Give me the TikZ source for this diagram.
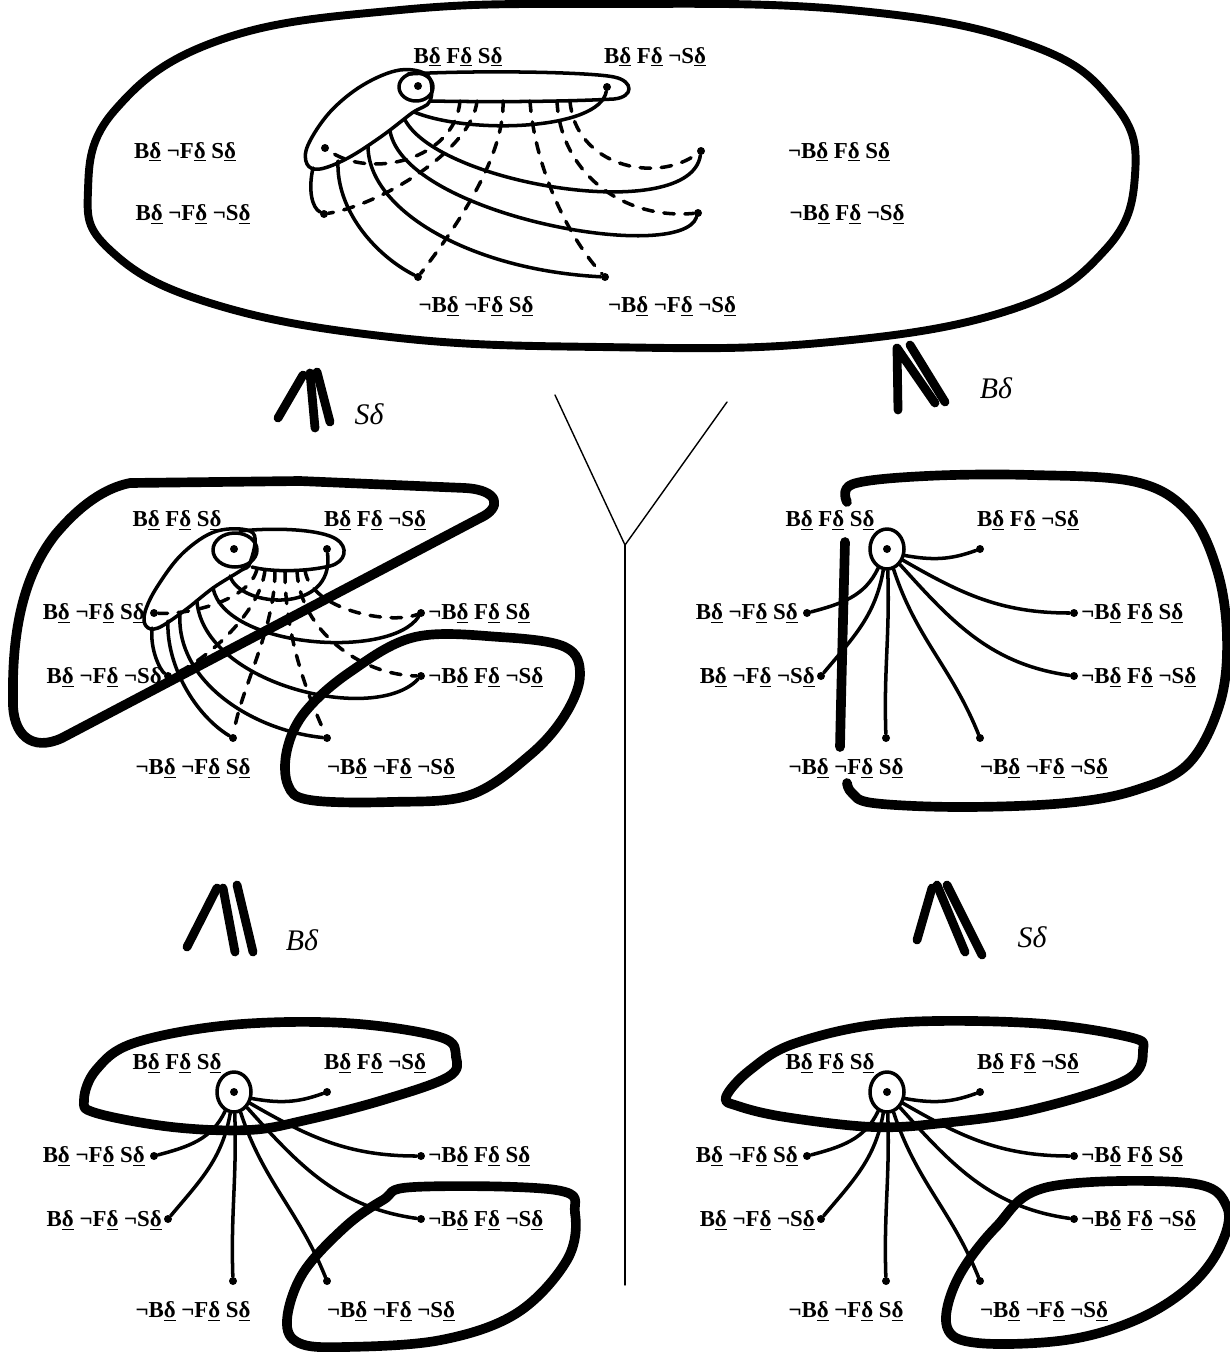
\documentclass[tikz,border=0pt]{standalone}
\usepackage{fontspec}
\setmainfont{Liberation Serif}
\usetikzlibrary{shapes.geometric}

\newcommand{\ud}{\underline{δ}}

% the eight worlds of a small panel (names start with #1)
\newcommand{\worlds}[1]{%
  % dots
  \node[wdot] (#1BFS) at (234,549) {};
  \node[wdot] (#1BFnS) at (327,549) {};
  \node[wdot] (#1BnFS) at (154,613) {};
  \node[wdot] (#1BnFnS) at (168,676) {};
  \node[wdot] (#1nBnFS) at (233,738) {};
  \node[wdot] (#1nBnFnS) at (327,738) {};
  \node[wdot] (#1nBFS) at (421,613) {};
  \node[wdot] (#1nBFnS) at (421,676) {};
  % labels
  \node[wlab] (#1BFS-l) at (177,520) {B\ud{} F\ud{} S\ud{}};
  \node[wlab] (#1BFnS-l) at (375,520) {B\ud{} F\ud{} ¬S\ud{}};
  \node[wlab, anchor=east] (#1BnFS-l) at (145,613) {B\ud{} ¬F\ud{} S\ud{}};
  \node[wlab, anchor=east] (#1BnFnS-l) at (162,677) {B\ud{} ¬F\ud{} ¬S\ud{}};
  \node[wlab, anchor=west] (#1nBFS-l) at (428,613) {¬B\ud{} F\ud{} S\ud{}};
  \node[wlab, anchor=west] (#1nBFnS-l) at (428,677) {¬B\ud{} F\ud{} ¬S\ud{}};
  \node[wlab] (#1nBnFS-l) at (193,768) {¬B\ud{} ¬F\ud{} S\ud{}};
  \node[wlab] (#1nBnFnS-l) at (391,768) {¬B\ud{} ¬F\ud{} ¬S\ud{}};
}

% one eye round B F S, with a link to every other world
\newcommand{\fan}[1]{%
  \node[eye] (#1eye) at (#1BFS) {};
  \draw[link] (#1eye.-20) to[out=-10,in=200] (#1BFnS);
  \draw[link] (#1eye.-115) to[out=-115,in=15] (#1BnFS);
  \draw[link] (#1eye.-100) to[out=-100,in=50] (#1BnFnS);
  \draw[link] (#1eye.-88) to[out=-88,in=92] (#1nBnFS);
  \draw[link] (#1eye.-72) to[out=-72,in=112] (#1nBnFnS);
  \draw[link] (#1eye.-50) to[out=-48,in=172] (#1nBFnS);
  \draw[link] (#1eye.-35) to[out=-30,in=180] (#1nBFS);
}

\begin{document}
\begin{tikzpicture}[x=0.02cm, y=-0.02cm, line cap=round, line join=round,
  wdot/.style={circle, fill, inner sep=0pt, minimum size=0.16cm},
  wlab/.style={font=\fontsize{13}{15}\selectfont\bfseries, inner sep=0pt},
  cell/.style={line width=2pt},
  link/.style={line width=2pt},
  dlink/.style={line width=2pt, dash pattern=on 6pt off 6pt},
  region/.style={line width=5.5pt},
  eye/.style={ellipse, draw, line width=2pt, inner sep=0pt,
    minimum width=0.68cm, minimum height=0.8cm},
  sym/.style={line width=5pt},
  hand/.style={font=\fontsize{17}{20}\selectfont\itshape, inner sep=0pt},
  fork/.style={line width=0.8pt}]

\useasboundingbox (0,0) rectangle (1230,1352);

% ---------------- top panel ----------------
\draw[region, line width=4.5pt] plot[smooth cycle, tension=0.7] coordinates {
  (600,4) (850,10) (1030,45) (1115,105) (1135,175) (1105,250) (1010,310)
  (820,343) (600,347) (390,337) (210,303) (110,250) (88,190) (115,110)
  (220,40) (400,10)};

% Dots
\node[wdot] (t-BFS) at (418,86) {};
\node[wdot] (t-BFnS) at (607,87) {};
\node[wdot] (t-BnFS) at (325,148) {};
\node[wdot] (t-BnFnS) at (324,214) {};
\node[wdot] (t-nBFS) at (701,151) {};
\node[wdot] (t-nBFnS) at (698,213) {};
\node[wdot] (t-nBnFS) at (418,277) {};
\node[wdot] (t-nBnFnS) at (605,277) {};

% Labels
\node[wlab] (t-BFS-l) at (458,57) {B\ud{} F\ud{} S\ud{}};
\node[wlab] (t-BFnS-l) at (655,57) {B\ud{} F\ud{} ¬S\ud{}};
\node[wlab] (t-BnFS-l) at (185,152) {B\ud{} ¬F\ud{} S\ud{}};
\node[wlab] (t-BnFnS-l) at (193,214) {B\ud{} ¬F\ud{} ¬S\ud{}};
\node[wlab] (t-nBFS-l) at (839,152) {¬B\ud{} F\ud{} S\ud{}};
\node[wlab] (t-nBFnS-l) at (847,214) {¬B\ud{} F\ud{} ¬S\ud{}};
\node[wlab] (t-nBnFS-l) at (476,306) {¬B\ud{} ¬F\ud{} S\ud{}};
\node[wlab] (t-nBnFnS-l) at (672,306) {¬B\ud{} ¬F\ud{} ¬S\ud{}};

% Cells
\draw[cell] (416,87) ellipse [x radius=0.34cm, y radius=0.28cm];
\draw[cell] (408,74) .. controls (480,70) and (590,72) .. (614,77)
  .. controls (634,81) and (634,97) .. (614,99)
  .. controls (560,102) and (480,102) .. (430,101);
\draw[cell] plot[smooth cycle, tension=0.6] coordinates {
  (428,76) (400,70) (363,85) (330,112) (308,145) (307,164) (320,169)
  (348,158) (382,136) (412,113) (430,101)};

% Solid links
\coordinate (t-s1) at (313,168);
\coordinate (t-s2) at (338,161);
\coordinate (t-s3) at (368,146);
\coordinate (t-s4) at (390,131);
\coordinate (t-s5) at (405,120);
\coordinate (t-s6) at (414,112);
\draw[link] (t-s1) .. controls (308,190) and (312,208) .. (t-BnFnS);
\draw[link] (t-s2) .. controls (336,210) and (375,255) .. (t-nBnFS);
\draw[link] (t-s3) .. controls (368,210) and (470,270) .. (t-nBnFnS);
\draw[link] (t-s4) .. controls (405,215) and (680,265) .. (t-nBFnS);
\draw[link] (t-s5) .. controls (440,185) and (690,225) .. (t-nBFS);
\draw[link] (t-s6) .. controls (470,135) and (600,130) .. (t-BFnS);

% Dashed links
\coordinate (t-d1) at (570,101);
\coordinate (t-d2) at (557,101);
\coordinate (t-d3) at (530,101);
\coordinate (t-d4) at (503,101);
\coordinate (t-d5) at (477,101);
\coordinate (t-d6) at (460,101);
\draw[dlink] (t-d1) .. controls (575,165) and (655,185) .. (t-nBFS);
\draw[dlink] (t-d2) .. controls (560,170) and (620,220) .. (t-nBFnS);
\draw[dlink] (t-d3) .. controls (535,170) and (570,240) .. (t-nBnFnS);
\draw[dlink] (t-d4) .. controls (505,160) and (450,235) .. (t-nBnFS);
\draw[dlink] (t-d5) .. controls (472,150) and (380,205) .. (t-BnFnS);
\draw[dlink] (t-d6) .. controls (455,160) and (370,180) .. (t-BnFS);

% ---------------- refinement marks ----------------
\draw[sym] (278,418) -- (303,375);
\draw[sym] (310,373) -- (315,428);
\draw[sym] (317,372) -- (330,422);
\node[hand] (h-top-left) at (369,414) {Sδ};

\draw[sym] (898,410) -- (897,348) -- (935,403);
\draw[sym] (910,345) -- (945,402);
\node[hand] (h-top-right) at (996,388) {Bδ};

\draw[sym] (187,947) -- (217,888);
\draw[sym] (223,888) -- (235,952);
\draw[sym] (237,885) -- (253,952);
\node[hand] (h-bot-left) at (302,940) {Bδ};

\draw[sym] (917,940) -- (932,888);
\draw[sym] (937,885) -- (965,952);
\draw[sym] (947,885) -- (982,955);
\node[hand] (h-bot-right) at (1032,937) {Sδ};

% fork between the two columns
\coordinate (fork) at (625,545);
\coordinate (fork-l) at (555,395);
\coordinate (fork-r) at (727,402);
\coordinate (fork-b) at (625,1285);
\draw[fork] (fork-l) -- (fork) -- (fork-r);
\draw[fork] (fork) -- (fork-b);

% ---------------- middle left panel ----------------
\draw[region] (130,483) -- (300,481) -- (465,488)
  .. controls (500,490) and (502,508) .. (480,518) -- (62,738)
  .. controls (32,752) and (12,735) .. (13,700)
  .. controls (12,640) and (20,580) .. (55,535)
  .. controls (80,505) and (105,488) .. (130,483) -- cycle;
\draw[region] plot[smooth cycle, tension=0.6] coordinates {
  (415,637) (500,637) (565,647) (580,675) (565,715) (530,755) (470,795)
  (390,802) (310,800) (288,785) (287,750) (305,712) (350,672)};

\worlds{m-}

% Cells
\draw[cell] (235,550) ellipse [x radius=0.44cm, y radius=0.34cm];
\draw[cell] (240,531) .. controls (280,527) and (322,530) .. (336,539)
  .. controls (349,547) and (346,562) .. (330,566)
  .. controls (305,572) and (270,572) .. (252,567);
\draw[cell] plot[smooth cycle, tension=0.6] coordinates {
  (253,533) (217,531) (183,553) (157,587) (145,612) (146,626) (158,628)
  (184,611) (213,588) (240,571) (250,563)};

% Solid links
\coordinate (m-s1) at (152,628);
\coordinate (m-s2) at (168,621);
\coordinate (m-s3) at (180,614);
\coordinate (m-s4) at (197,602);
\coordinate (m-s5) at (213,588);
\coordinate (m-s6) at (230,576);
\draw[link] (m-s1) .. controls (150,650) and (160,670) .. (m-BnFnS);
\draw[link] (m-s2) .. controls (166,665) and (195,715) .. (m-nBnFS);
\draw[link] (m-s3) .. controls (176,680) and (250,730) .. (m-nBnFnS);
\draw[link] (m-s4) .. controls (205,685) and (375,725) .. (m-nBFnS);
\draw[link] (m-s5) .. controls (225,648) and (390,660) .. (m-nBFS);
\draw[link] (m-s6) .. controls (240,608) and (335,615) .. (m-BFnS);

% Dashed links
\coordinate (m-d1) at (305,570);
\coordinate (m-d2) at (297,571);
\coordinate (m-d3) at (285,572);
\coordinate (m-d4) at (275,571);
\coordinate (m-d5) at (265,570);
\coordinate (m-d6) at (257,569);
\draw[dlink] (m-d1) .. controls (310,610) and (390,625) .. (m-nBFS);
\draw[dlink] (m-d2) .. controls (300,630) and (360,675) .. (m-nBFnS);
\draw[dlink] (m-d3) .. controls (285,640) and (310,700) .. (m-nBnFnS);
\draw[dlink] (m-d4) .. controls (275,630) and (240,690) .. (m-nBnFS);
\draw[dlink] (m-d5) .. controls (260,615) and (200,665) .. (m-BnFnS);
\draw[dlink] (m-d6) .. controls (250,600) and (190,615) .. (m-BnFS);

% ---------------- middle right panel ----------------
\draw[region] plot[smooth, tension=0.6] coordinates {
  (847,502) (853,484) (926,476) (1031,475) (1136,482) (1189,513)
  (1217,570) (1227,637) (1220,703) (1189,763) (1136,790) (1066,803)
  (961,807) (873,803) (852,793) (847,783)};
\draw[region] (845,542) .. controls (843,620) and (841,700) .. (840,747);

\begin{scope}[shift={(653,0)}]
  \worlds{r-}
  \fan{r-}
\end{scope}

% ---------------- bottom left panel ----------------
\draw[region] plot[smooth cycle, tension=0.6] coordinates {
  (84,1100) (96,1070) (134,1043) (230,1025) (345,1023) (440,1037)
  (456,1057) (448,1077) (383,1100) (306,1120) (249,1130) (172,1127)
  (96,1113)};
\draw[region] plot[smooth cycle, tension=0.6] coordinates {
  (414,1187) (556,1190) (575,1213) (567,1260) (517,1313) (441,1340)
  (345,1347) (299,1343) (287,1320) (303,1273) (345,1227) (383,1200)};

\begin{scope}[shift={(0,543)}]
  \worlds{bl-}
  \fan{bl-}
\end{scope}

% ---------------- bottom right panel ----------------
\draw[region] plot[smooth cycle, tension=0.6] coordinates {
  (726,1097) (750,1070) (796,1043) (891,1023) (1031,1023) (1129,1037)
  (1143,1050) (1126,1080) (1031,1110) (943,1123) (873,1127) (785,1117)
  (738,1106)};
\draw[region] plot[smooth cycle, tension=0.6] coordinates {
  (1048,1187) (1189,1183) (1227,1207) (1220,1247) (1189,1287)
  (1136,1320) (1066,1340) (978,1343) (947,1327) (957,1280) (996,1227)};

\begin{scope}[shift={(653,543)}]
  \worlds{br-}
  \fan{br-}
\end{scope}

\end{tikzpicture}
\end{document}
